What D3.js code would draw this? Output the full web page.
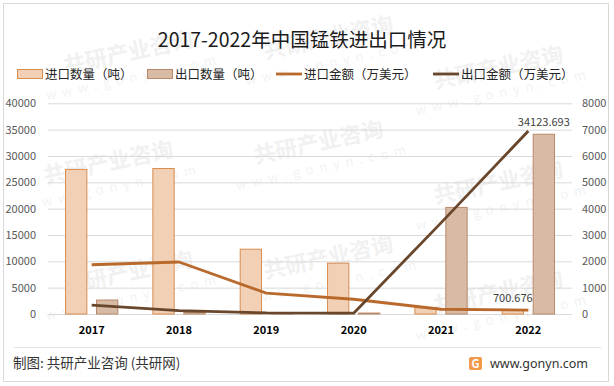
<!DOCTYPE html>
<html><head><meta charset="utf-8">
<script src="https://cdn.jsdelivr.net/npm/d3@7"></script>
<style>
body{margin:0;background:#fff;}
svg{display:block;font-family:"Noto Sans CJK SC","Microsoft YaHei",sans-serif;}
</style></head>
<body><svg id="c" width="614" height="386"></svg>
<script>
const years = ["2017","2018","2019","2020","2021","2022"];
const importQty = [27450, 27620, 12300, 9650, 1200, 700.676];
const exportQty = [2650, 280, 40, 180, 20230, 34123.693];
const importAmt = [1870, 1975, 790, 560, 180, 150];
const exportAmt = [340, 125, 40, 30, 3460, 6948];
const leftTicks = [0,5000,10000,15000,20000,25000,30000,35000,40000];
const rightTicks = [0,1000,2000,3000,4000,5000,6000,7000,8000];
const seriesNames = ["进口数量（吨）","出口数量（吨）","进口金额（万美元）","出口金额（万美元）"];

const svg = d3.select("#c");
const plot = {l:48, r:572, t:103.3, b:314};

// border
svg.append("rect").attr("x",3.5).attr("y",3.5).attr("width",605).attr("height",378)
  .attr("fill","#fff").attr("stroke","#d9d9d9").attr("stroke-width",1);

// watermarks (kept fully inside the frame)
const wm = svg.append("g");
const wmPos = [[130,60],[330,45],[500,75],[110,170],[320,150],[500,190],[130,280],[330,265],[500,300]];
wmPos.forEach(([x,y])=>{
  const g = wm.append("g").attr("transform",`translate(${x},${y}) rotate(-12)`);
  g.append("text").attr("text-anchor","middle").attr("font-size",22).attr("font-weight","bold")
    .attr("fill","#f1f1f1").text("共研产业咨询");
  g.append("text").attr("y",22).attr("text-anchor","middle").attr("font-size",13)
    .attr("letter-spacing",6).attr("fill","#f3f3f3").text("www.gonyn.com");
});

const x0 = d3.scaleBand().domain(years).range([plot.l, plot.r]).paddingInner(0.39).paddingOuter(0.195);
const x1 = d3.scaleBand().domain(["imp","exp"]).range([0, x0.bandwidth()]).paddingInner(0.28);
const yL = d3.scaleLinear().domain([0,40000]).range([plot.b, plot.t]);
const yR = d3.scaleLinear().domain([0,8000]).range([plot.b, plot.t]);
const xc = d => x0(d) + x0.bandwidth()/2;

// gridlines
svg.append("g").selectAll("line").data(leftTicks).join("line")
  .attr("x1",plot.l).attr("x2",plot.r).attr("y1",d=>yL(d)+0.5).attr("y2",d=>yL(d)+0.5)
  .attr("stroke","#d9d9d9").attr("stroke-width",1);

// left axis
const axL = d3.axisLeft(yL).tickValues(leftTicks).tickSize(0).tickPadding(0).tickFormat(d3.format("d"));
const gL = svg.append("g").attr("transform",`translate(36,0)`).call(axL);
gL.select(".domain").remove();
gL.selectAll("text").attr("font-size",11).attr("fill","#595959").attr("font-family","Noto Sans CJK SC, sans-serif");

// right axis
const axR = d3.axisRight(yR).tickValues(rightTicks).tickSize(0).tickPadding(0).tickFormat(d3.format("d"));
const gR = svg.append("g").attr("transform",`translate(582,0)`).call(axR);
gR.select(".domain").remove();
gR.selectAll("text").attr("font-size",11).attr("fill","#595959").attr("font-family","Noto Sans CJK SC, sans-serif");

// x axis labels
const axX = d3.axisBottom(x0).tickSize(0).tickPadding(0);
const gX = svg.append("g").attr("transform",`translate(0,326)`).call(axX);
gX.select(".domain").remove();
gX.selectAll("text").attr("font-size",11).attr("font-weight","bold").attr("fill","#000")
  .attr("font-family","Noto Sans CJK SC, sans-serif");

// bars
const impFill="#f1d0b6", impStroke="#d98d4f", expFill="#d8bba4", expStroke="#b9896a";
svg.append("g").selectAll("rect").data(years).join("rect")
  .attr("x",d=>x0(d)+x1("imp")+0.5).attr("width",x1.bandwidth()-1)
  .attr("y",(d,i)=>yL(importQty[i])).attr("height",(d,i)=>plot.b-yL(importQty[i]))
  .attr("fill",impFill).attr("stroke",impStroke).attr("stroke-width",1);
svg.append("g").selectAll("rect").data(years).join("rect")
  .attr("x",d=>x0(d)+x1("exp")+0.5).attr("width",x1.bandwidth()-1)
  .attr("y",(d,i)=>yL(exportQty[i])).attr("height",(d,i)=>plot.b-yL(exportQty[i]))
  .attr("fill",expFill).attr("stroke",expStroke).attr("stroke-width",1);

// lines
const impColor="#b8692b", expColor="#68472d";
const line = d3.line().x(d=>xc(d[0])).y(d=>yR(d[1]));
svg.append("path").datum(years.map((y,i)=>[y,importAmt[i]])).attr("d",line)
  .attr("fill","none").attr("stroke",impColor).attr("stroke-width",2.8).attr("stroke-linejoin","round");
svg.append("path").datum(years.map((y,i)=>[y,exportAmt[i]])).attr("d",line)
  .attr("fill","none").attr("stroke",expColor).attr("stroke-width",2.8).attr("stroke-linejoin","round");

// data labels
const last = years.length-1;
svg.append("text").attr("x",x0(years[last])+x1("exp")+x1.bandwidth()/2).attr("y",yL(exportQty[last])-8)
  .attr("text-anchor","middle").attr("font-size",11).attr("fill","#404040").text(d3.format(".3f")(exportQty[last]));
svg.append("text").attr("x",x0(years[last])+x1("imp")+x1.bandwidth()/2).attr("y",yL(importQty[last])-8)
  .attr("text-anchor","middle").attr("font-size",11).attr("fill","#404040").text(d3.format(".3f")(importQty[last]));

// title
svg.append("text").attr("x",302).attr("y",47).attr("text-anchor","middle").attr("font-size",19.5)
  .attr("fill","#1a1a1a").text("2017-2022年中国锰铁进出口情况");

// legend
const leg = svg.append("g").attr("font-size",12.5).attr("fill","#262626");
const legX = [17,147,276,433];
seriesNames.forEach((n,i)=>{
  const g = leg.append("g").attr("transform",`translate(${legX[i]},80)`);
  if(i<2){
    g.append("rect").attr("x",0.5).attr("y",-10.5).attr("width",25).attr("height",9)
      .attr("fill",i==0?impFill:expFill).attr("stroke",i==0?impStroke:expStroke);
  } else {
    g.append("line").attr("x1",0).attr("x2",26).attr("y1",-6).attr("y2",-6)
      .attr("stroke",i==2?impColor:expColor).attr("stroke-width",2.8);
  }
  g.append("text").attr("x",28).attr("y",-1).attr("fill","#262626").text(n);
});

// footer
svg.append("line").attr("x1",14).attr("x2",601).attr("y1",347.5).attr("y2",347.5).attr("stroke","#e3e3e3");
svg.append("text").attr("x",13).attr("y",368).attr("font-size",13.5).attr("fill","#333").text("制图: 共研产业咨询 (共研网)");
const logo = svg.append("g").attr("transform","translate(469,357)");
logo.append("rect").attr("width",13).attr("height",13).attr("rx",2).attr("fill","#f29a4b");
logo.append("text").attr("x",6.5).attr("y",11).attr("text-anchor","middle").attr("font-size",11).attr("font-weight","bold").attr("fill","#fff").text("G");
svg.append("text").attr("x",490).attr("y",368).attr("font-size",12.5).attr("fill","#333").attr("font-family","Noto Sans, sans-serif").text("www.gonyn.com");
</script></body></html>
